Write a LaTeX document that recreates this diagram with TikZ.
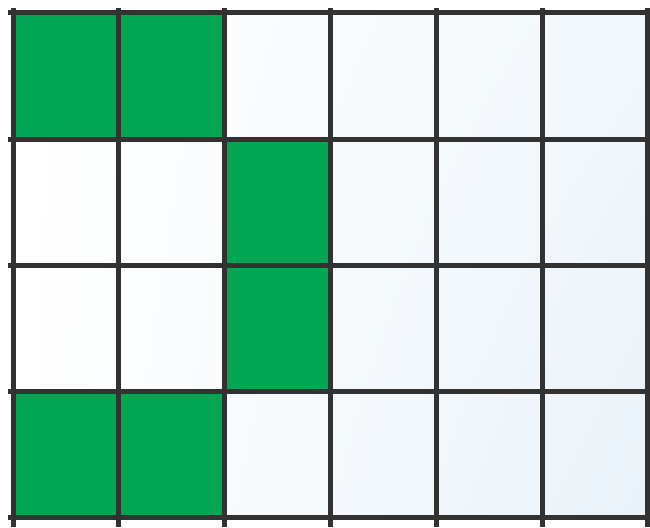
\documentclass[tikz,border=0pt]{standalone}
\usetikzlibrary{calc,shadings}
\definecolor{cellgreen}{RGB}{0,166,81}
\definecolor{gridline}{RGB}{50,50,50}
\definecolor{paleblue}{RGB}{233,242,249}
\tikzset{
  gridstroke/.style={draw=gridline, line width=5pt},
  greencell/.style={fill=cellgreen},
}
\begin{document}
\begin{tikzpicture}[x=1pt,y=-1pt]
\useasboundingbox (0,0) rectangle (650,527);
\fill[white] (0,0) rectangle (650,527);
% background shading of the grid (white at top left, pale blue at bottom right)
\shade[upper left=white, lower right=paleblue, upper right=paleblue!60!white, lower left=white] (13,13) rectangle (648,517);
% green cells (col, row)
\foreach \c/\r in {0/0,1/0,2/1,2/2,0/3,1/3}{
  \fill[greencell] ({13+105.8*\c},{13+126*\r}) rectangle ({13+105.8*(\c+1)},{13+126*(\r+1)});
}
% vertical lines
\foreach \c in {0,...,6}{
  \draw[gridstroke] ({13+105.8*\c},8) -- ({13+105.8*\c},527);
}
% horizontal lines
\foreach \r in {0,...,4}{
  \draw[gridstroke] (8,{13+126*\r}) -- (650,{13+126*\r});
}
\end{tikzpicture}
\end{document}
